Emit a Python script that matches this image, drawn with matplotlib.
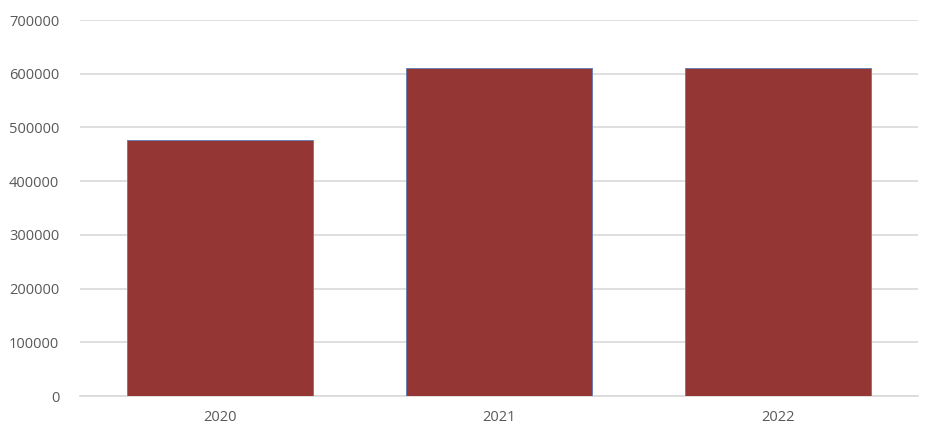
import matplotlib
matplotlib.use('Agg')
import matplotlib.pyplot as plt

plt.rcParams['font.family'] = ['Open Sans', 'DejaVu Sans']

years = ['2020', '2021', '2022']
values = [476000, 610000, 610000]
y_ticks = [0, 100000, 200000, 300000, 400000, 500000, 600000, 700000]

fig = plt.figure(figsize=(9.4, 4.41), dpi=100)
ax = fig.add_axes([80 / 940, 45 / 441, 838 / 940, 376 / 441])

x = range(len(years))
ax.bar(x, values, width=0.667, color='#943634', edgecolor='#6a7fb0', linewidth=0.7, zorder=3)

ax.set_xlim(-0.5, 2.5)
ax.set_ylim(0, 700000)
ax.set_yticks(y_ticks)
ax.set_yticklabels([str(v) for v in y_ticks])
ax.set_xticks(list(x))
ax.set_xticklabels(years)

ax.yaxis.grid(True, color='#d9d9d9', linewidth=1.2, zorder=0)
for side in ['top', 'right', 'left']:
    ax.spines[side].set_visible(False)
ax.spines['bottom'].set_color('#d9d9d9')
ax.spines['bottom'].set_linewidth(1.2)
ax.tick_params(axis='both', length=0, labelsize=10.5, colors='#595959')
ax.tick_params(axis='y', pad=15)
ax.tick_params(axis='x', pad=10)

fig.savefig('out.png', dpi=100)
